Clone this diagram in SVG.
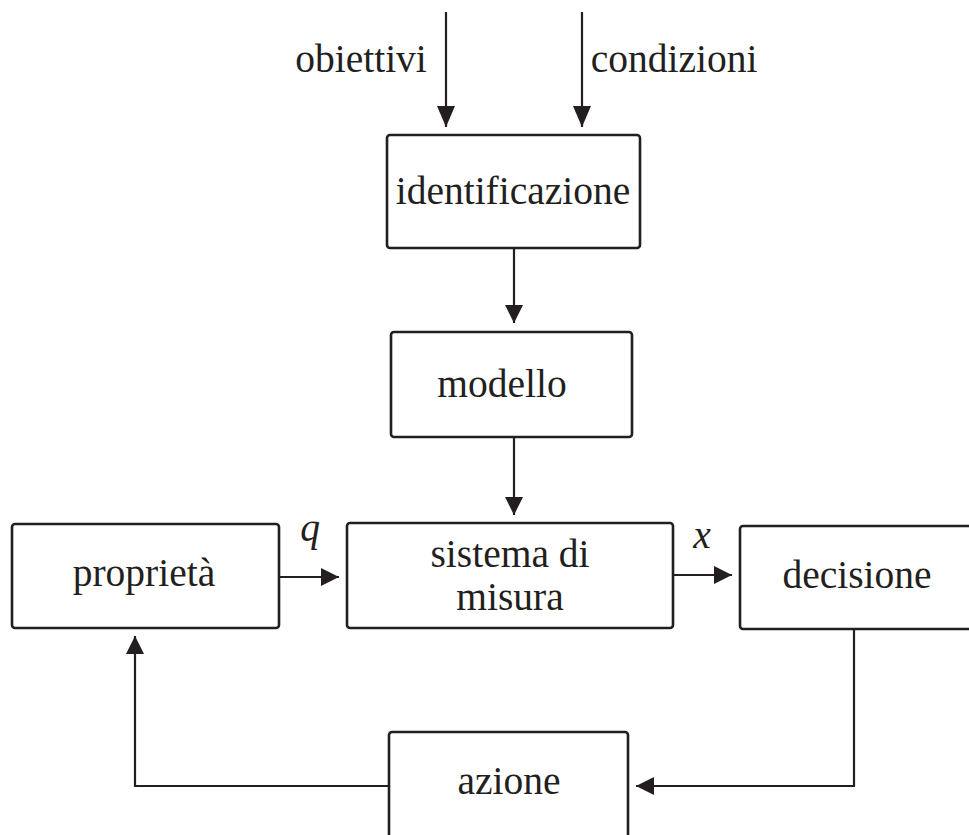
<svg xmlns="http://www.w3.org/2000/svg" width="969" height="835" viewBox="0 0 969 835">
<style>
.box{fill:#ffffff;stroke:#231f20;stroke-width:2.6}
.ln{fill:none;stroke:#231f20;stroke-width:2.2}
.t{font-family:"Liberation Serif","Times New Roman",serif;font-size:39.5px;fill:#231f20;text-anchor:middle}
.i{font-style:italic}
</style>
<defs>
<marker id="arr" viewBox="0 0 18 18" refX="18" refY="9" markerWidth="18" markerHeight="18" orient="auto" markerUnits="userSpaceOnUse">
<path d="M0,0 L18,9 L0,18 z" fill="#231f20"/>
</marker>
<marker id="arrL" viewBox="0 0 21 18" refX="21" refY="9" markerWidth="21" markerHeight="18" orient="auto" markerUnits="userSpaceOnUse">
<path d="M0,0 L21,9 L0,18 z" fill="#231f20"/>
</marker>
</defs>
<rect width="969" height="835" fill="#ffffff"/>
<g id="connectors">
<path class="ln" d="M446,12 V127" marker-end="url(#arrL)"/>
<path class="ln" d="M582,12 V127" marker-end="url(#arrL)"/>
<path class="ln" d="M514,248 V323" marker-end="url(#arr)"/>
<path class="ln" d="M514,437 V515" marker-end="url(#arr)"/>
<path class="ln" d="M279,577 H339" marker-end="url(#arr)"/>
<path class="ln" d="M673,575 H732" marker-end="url(#arr)"/>
<path class="ln" d="M854,630 V786 H636" marker-end="url(#arr)"/>
<path class="ln" d="M389,786 H135 V636" marker-end="url(#arr)"/>
</g>
<g id="labels">
<text class="t" x="361" y="72">obiettivi</text>
<text class="t" x="674" y="72">condizioni</text>
<text class="t i" x="310" y="541">q</text>
<text class="t i" x="702" y="548">x</text>
</g>
<g id="identificazione">
<rect class="box" x="387" y="135" width="253" height="113" rx="3"/>
<text class="t" x="513" y="204">identificazione</text>
</g>
<g id="modello">
<rect class="box" x="391" y="332" width="241" height="105" rx="3"/>
<text class="t" x="502" y="397">modello</text>
</g>
<g id="proprieta">
<rect class="box" x="12" y="524" width="267" height="104" rx="3"/>
<text class="t" x="144" y="586">proprietà</text>
</g>
<g id="sistema">
<rect class="box" x="347" y="523" width="326" height="105" rx="3"/>
<text class="t" x="510" y="567">sistema di</text>
<text class="t" x="510" y="610">misura</text>
</g>
<g id="decisione">
<rect class="box" x="740" y="526" width="260" height="103" rx="3"/>
<text class="t" x="857" y="588">decisione</text>
</g>
<g id="azione">
<rect class="box" x="389" y="732" width="239" height="140" rx="3"/>
<text class="t" x="509" y="794">azione</text>
</g>
</svg>
